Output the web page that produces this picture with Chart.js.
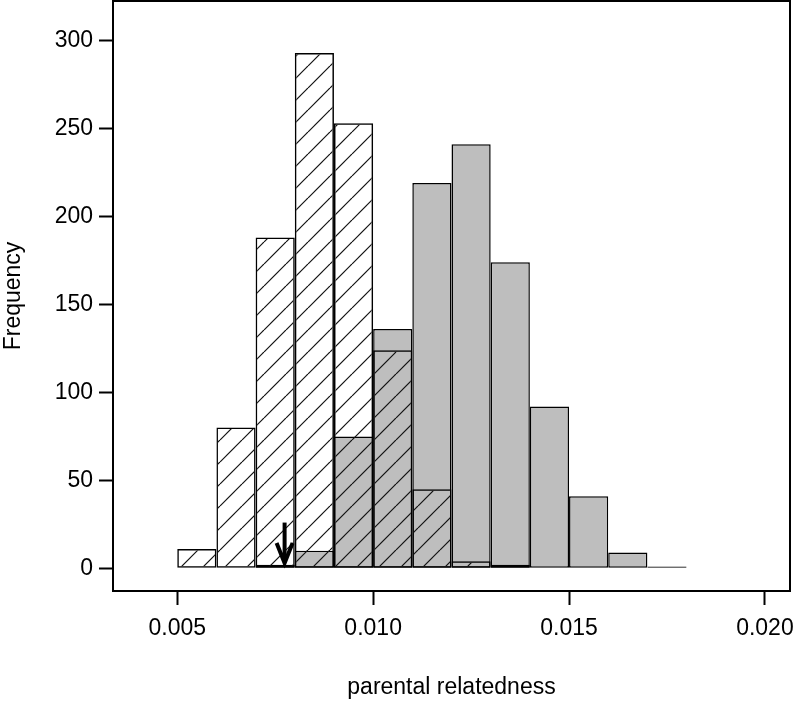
<!DOCTYPE html>
<html>
<head>
<meta charset="utf-8">
<title>parental relatedness</title>
<script src="https://cdn.jsdelivr.net/npm/chart.js@4.4.1/dist/chart.umd.min.js"></script>
<style>
    html, body { margin: 0; padding: 0; background: #fff; }
    #wrap { width: 799px; height: 701px; position: relative; }
</style>
</head>
<body>
<div id="wrap"><canvas id="histChart"></canvas></div>
<script>
// bin left edges, bins are 0.001 wide
const binStarts = [0.005, 0.006, 0.007, 0.008, 0.009, 0.010, 0.011, 0.012, 0.013, 0.014, 0.015, 0.016, 0.017];
const binWidth = 0.001;
// hatched histogram (drawn on top)
const hatchedCounts = [11, 80, 188, 293, 253, 124, 45, 4, 2, 0, 0, 0, 0];
// grey histogram
const greyCounts = [0, 0, 2, 10, 75, 136, 219, 241, 174, 92, 41, 9, 1];

const xTicks = [0.005, 0.010, 0.015, 0.020];
const yTicks = [0, 50, 100, 150, 200, 250, 300];

// observed value marked with the arrow
const arrowX = 0.00774;
const arrowFrom = 26;
const arrowTo = 3;

function toPoints(counts) {
    return binStarts
        .map((b, i) => ({x: b + binWidth / 2, y: counts[i]}))
        .filter(p => p.y > 0);
}

function makeHatch() {
    const s = 22;
    const c = document.createElement('canvas');
    c.width = s;
    c.height = s;
    const g = c.getContext('2d');
    g.strokeStyle = '#111';
    g.lineWidth = 1.2;
    for (const k of [-s, 0, s]) {
        g.beginPath();
        g.moveTo(k, s);
        g.lineTo(k + s, 0);
        g.stroke();
    }
    return g.createPattern(c, 'repeat');
}

const frameAndArrow = {
    id: 'frameAndArrow',
    afterDraw(chart) {
        const {ctx, chartArea: a, scales: {x, y}} = chart;
        ctx.save();
        ctx.strokeStyle = '#000';
        ctx.lineWidth = 2;
        ctx.strokeRect(a.left, a.top, a.right - a.left, a.bottom - a.top);

        const px = x.getPixelForValue(arrowX);
        const y1 = y.getPixelForValue(arrowFrom);
        const y2 = y.getPixelForValue(arrowTo);
        ctx.lineWidth = 4;
        ctx.lineCap = 'butt';
        ctx.lineJoin = 'miter';
        ctx.beginPath();
        ctx.moveTo(px, y1);
        ctx.lineTo(px, y2 - 2);
        ctx.stroke();
        ctx.beginPath();
        ctx.moveTo(px - 8, y2 - 20);
        ctx.lineTo(px, y2);
        ctx.lineTo(px + 8, y2 - 20);
        ctx.stroke();
        ctx.restore();
    }
};

Chart.defaults.font.family = '"Liberation Sans", Arial, sans-serif';
Chart.defaults.color = '#000';

const tickFont = {size: 23};

new Chart(document.getElementById('histChart'), {
    type: 'bar',
    data: {
        datasets: [
            {
                label: 'hatched',
                data: toPoints(hatchedCounts),
                backgroundColor: makeHatch(),
                borderColor: '#000',
                borderWidth: 1.5,
                borderSkipped: false,
                inflateAmount: 0,
                grouped: false,
                barPercentage: 1,
                categoryPercentage: 1,
                order: 0
            },
            {
                label: 'grey',
                data: toPoints(greyCounts),
                backgroundColor: '#bebebe',
                borderColor: '#000',
                borderWidth: 1.5,
                borderSkipped: false,
                inflateAmount: 0,
                grouped: false,
                barPercentage: 1,
                categoryPercentage: 1,
                order: 1
            }
        ]
    },
    options: {
        responsive: true,
        maintainAspectRatio: false,
        animation: false,
        events: [],
        layout: {padding: {top: 1, right: 9, left: 0, bottom: 0}},
        plugins: {
            legend: {display: false},
            tooltip: {enabled: false}
        },
        scales: {
            x: {
                type: 'linear',
                min: 0.00336,
                max: 0.02064,
                offset: false,
                afterBuildTicks: scale => {
                    scale.ticks = xTicks.map(v => ({value: v}));
                },
                afterFit: scale => {
                    scale.height = 110;
                    scale.paddingLeft = 0;
                    scale.paddingRight = 0;
                },
                grid: {
                    offset: false,
                    drawOnChartArea: false,
                    drawTicks: true,
                    tickLength: 14,
                    tickWidth: 2,
                    tickColor: '#000'
                },
                border: {display: false},
                ticks: {
                    font: tickFont,
                    padding: 10,
                    maxRotation: 0,
                    callback: v => v.toFixed(3)
                },
                title: {
                    display: true,
                    text: 'parental relatedness',
                    font: {size: 23},
                    padding: {top: 0, bottom: 0}
                }
            },
            y: {
                type: 'linear',
                min: -12.9,
                max: 322.5,
                afterBuildTicks: scale => {
                    scale.ticks = yTicks.map(v => ({value: v}));
                },
                afterFit: scale => {
                    scale.width = 113;
                    scale.paddingTop = 0;
                    scale.paddingBottom = 0;
                },
                grid: {
                    drawOnChartArea: false,
                    drawTicks: true,
                    tickLength: 14,
                    tickWidth: 2,
                    tickColor: '#000'
                },
                border: {display: false},
                ticks: {
                    font: tickFont,
                    padding: 6,
                    callback: v => String(v)
                },
                title: {
                    display: true,
                    text: 'Frequency',
                    font: {size: 23},
                    padding: {top: 0, bottom: 0}
                }
            }
        }
    },
    plugins: [frameAndArrow]
});
</script>
</body>
</html>
